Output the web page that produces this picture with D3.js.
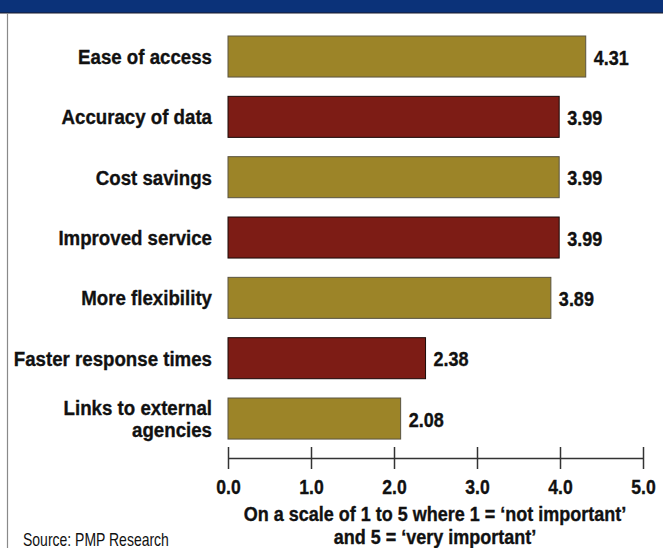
<!DOCTYPE html>
<html>
<head>
<meta charset="utf-8">
<script src="https://cdn.jsdelivr.net/npm/d3@7"></script>
<style>
  html, body { margin: 0; padding: 0; background: #fff; }
  svg { display: block; }
  text { font-family: "Liberation Sans", Arial, sans-serif; fill: #111; }
  text.heavy { stroke: #111; stroke-width: 0.35px; }
</style>
</head>
<body>
<svg id="chart" width="663" height="548"></svg>
<script>
// Importance ratings of each factor (scale 1-5)
const categories = [
  "Ease of access",
  "Accuracy of data",
  "Cost savings",
  "Improved service",
  "More flexibility",
  "Faster response times",
  "Links to external|agencies"
];
const values = [4.31, 3.99, 3.99, 3.99, 3.89, 2.38, 2.08];
const tickValues = [0, 1, 2, 3, 4, 5];
const axisTitle = ["On a scale of 1 to 5 where 1 = \u2018not important\u2019", "and 5 = \u2018very important\u2019"];
const sourceNote = "Source: PMP Research";

const gold = "#9c8428";
const red = "#7d1c15";

const svg = d3.select("#chart");
const W = 663, H = 548;

// condensed type: place text at (px, py) and narrow it horizontally
function place(sel, px, py, sx) {
  sel.attr("x", 0).attr("y", 0)
     .attr("transform", (d, i) => `translate(${typeof px === "function" ? px(d, i) : px},${typeof py === "function" ? py(d, i) : py}) scale(${sx},1)`);
}

// header band and frame
svg.append("rect").attr("x", 0).attr("y", 0).attr("width", W).attr("height", 13).attr("fill", "#0b3279");
svg.append("line").attr("x1", 0).attr("x2", W).attr("y1", 13).attr("y2", 13).attr("stroke", "#1a1a2a").attr("stroke-width", 1.2);
svg.append("line").attr("x1", 7.5).attr("x2", 7.5).attr("y1", 13).attr("y2", H).attr("stroke", "#8a8a8a").attr("stroke-width", 1.2);

const x = d3.scaleLinear().domain([0, 5]).range([228, 643]);
const y = d3.scaleBand().domain(categories).range([26.35, 448.7]).paddingInner(0.32).paddingOuter(0.16);

// bars
svg.append("g").selectAll("rect")
  .data(categories)
  .join("rect")
  .attr("x", x(0))
  .attr("y", d => y(d))
  .attr("width", (d, i) => x(values[i]) - x(0))
  .attr("height", y.bandwidth())
  .attr("fill", (d, i) => i % 2 === 0 ? gold : red)
  .attr("stroke", (d, i) => i % 2 === 0 ? "#5a5440" : "#1a0a08")
  .attr("stroke-width", 1);

// value labels
svg.append("g").selectAll("text")
  .data(categories)
  .join("text")
  .attr("class", "heavy")
  .attr("font-size", 20)
  .attr("font-weight", "bold")
  .text((d, i) => values[i].toFixed(2))
  .call(place, (d, i) => x(values[i]) + 8, d => y(d) + y.bandwidth() / 2 + 8, 0.9);

// category labels (| splits a label onto two lines)
const lh = 22.5;
svg.append("g").selectAll("text")
  .data(categories)
  .join("text")
  .attr("class", "heavy")
  .attr("text-anchor", "end")
  .attr("font-size", 21)
  .attr("font-weight", "bold")
  .call(place, 212, d => y(d) + y.bandwidth() / 2 + 7.5 - (d.split("|").length - 1) * lh / 2, 0.89)
  .each(function(d) {
    const t = d3.select(this);
    d.split("|").forEach((p, k) => {
      t.append("tspan").attr("x", 0).attr("dy", k === 0 ? 0 : lh).text(p);
    });
  });

// x axis: ticks cross the axis line
const axisY = 458;
const ax = svg.append("g")
  .attr("transform", `translate(0,${axisY})`)
  .call(d3.axisBottom(x).tickValues(tickValues).tickFormat(d3.format(".1f")).tickSize(11).tickSizeOuter(0));
ax.select(".domain").attr("stroke", "#333").attr("stroke-width", 1.5);
ax.selectAll(".tick line").attr("y1", -11).attr("y2", 11).attr("stroke", "#333").attr("stroke-width", 1.5);
ax.selectAll(".tick text")
  .attr("class", "heavy")
  .attr("dy", null)
  .attr("font-size", 20)
  .attr("font-weight", "bold")
  .attr("font-family", null)
  .attr("fill", "#111")
  .call(place, 0, 35.5, 0.88);

// axis title
svg.append("g").selectAll("text")
  .data(axisTitle)
  .join("text")
  .attr("class", "heavy")
  .attr("text-anchor", "middle")
  .attr("font-size", 20)
  .attr("font-weight", "bold")
  .text(d => d)
  .call(place, 435, (d, i) => 521 + i * 23, 0.9);

// source
svg.append("text")
  .attr("font-size", 17.5)
  .text(sourceNote)
  .call(place, 23, 545.5, 0.8);
</script>
</body>
</html>
